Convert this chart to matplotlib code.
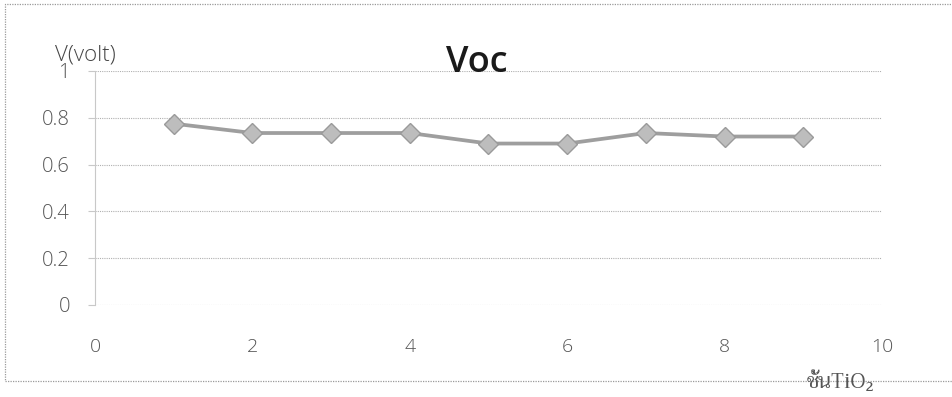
import matplotlib
matplotlib.use("Agg")
import matplotlib.pyplot as plt
from matplotlib.patches import Rectangle

# Open-circuit voltage per number of TiO2 layers
layers = [1, 2, 3, 4, 5, 6, 7, 8, 9]
voc = [0.775, 0.735, 0.735, 0.735, 0.69, 0.69, 0.735, 0.72, 0.72]
x_ticks = [0, 2, 4, 6, 8, 10]
y_ticks = [0, 0.2, 0.4, 0.6, 0.8, 1]
y_tick_labels = ["0", "0.2", "0.4", "0.6", "0.8", "1"]

W, H = 953, 397
fig = plt.figure(figsize=(W / 100, H / 100), dpi=100)
fig.patch.set_facecolor("white")

# chart frame
fig.patches.append(Rectangle((5 / W, 1 - 381 / H), 1.2, (381 - 4) / H,
                             transform=fig.transFigure, fill=False,
                             edgecolor="#9a9a9a", linewidth=0.9,
                             linestyle=(0, (1, 1))))

ax = fig.add_axes([95 / W, 1 - 305 / H, (882 - 95) / W, (305 - 71) / H])
ax.set_xlim(0, 10)
ax.set_ylim(0, 1)
ax.set_facecolor("none")

for s in ("top", "right", "bottom"):
    ax.spines[s].set_visible(False)
ax.spines["left"].set_color("#c8c8c8")
ax.spines["left"].set_linestyle((0, (1, 1)))
ax.spines["left"].set_linewidth(0.8)

ax.set_yticks(y_ticks)
ax.set_yticklabels(y_tick_labels)
ax.set_xticks(x_ticks)
ax.yaxis.grid(True, color="#b0b0b0", linestyle=(0, (1, 1)), linewidth=0.8)
ax.tick_params(axis="y", length=5, color="#c8c8c8", pad=13,
               labelsize=14.5, labelcolor="#555555")
ax.tick_params(axis="x", length=0, pad=24, labelsize=14, labelcolor="#555555")
for lab in ax.get_xticklabels() + ax.get_yticklabels():
    lab.set_fontfamily("Open Sans")
    lab.set_fontweight("light")

ax.plot(layers, voc, color="#9e9e9e", linewidth=2.7, marker="D",
        markersize=10.5, markerfacecolor="#bdbdbd", markeredgecolor="#9a9a9a",
        markeredgewidth=1.0, zorder=3)

fig.text(477 / W, 1 - 72 / H, "Voc", ha="center", va="baseline",
         fontsize=26, fontweight="semibold", family="Open Sans",
         color="#1a1a1a")
fig.text(55 / W, 1 - 55 / H, "V(volt)", ha="left", va="center",
         fontsize=16, family="Open Sans", fontweight="light", color="#444444")
fig.text(841 / W, 1 - 382 / H, "ชั้นTiO₂", ha="center", va="center",
         fontsize=15, family=["Trirong", "DejaVu Serif"], color="#555555")

fig.savefig("out.png", dpi=100, facecolor="white")
